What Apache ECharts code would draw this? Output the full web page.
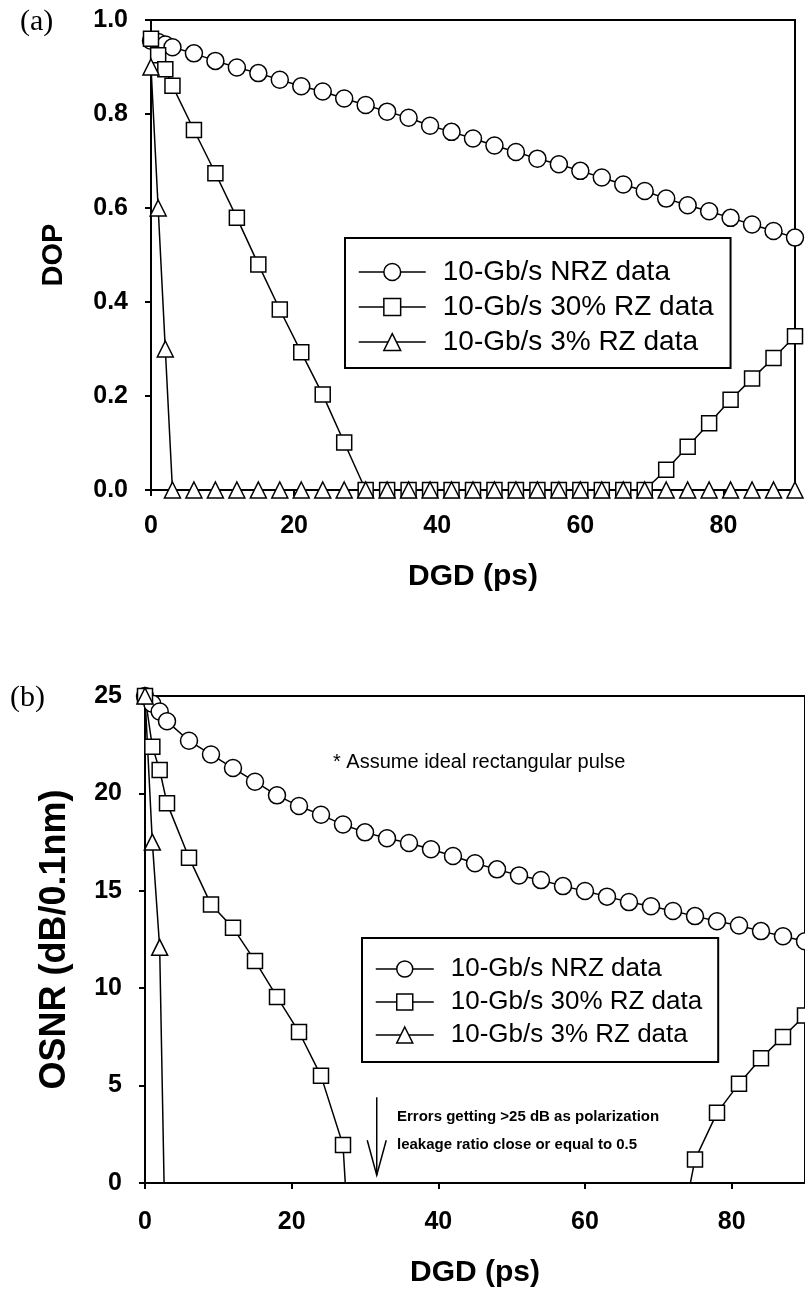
<!DOCTYPE html>
<html>
<head>
<meta charset="utf-8">
<style>
  html, body { margin: 0; padding: 0; background: #fff; }
  #chart { width: 805px; height: 1300px; }
</style>
<script src="https://cdn.jsdelivr.net/npm/echarts@6/dist/echarts.min.js"></script>
</head>
<body>
<div id="chart"></div>
<script>
// DGD sample points (ps), shared by every curve
const dgd = [0, 1, 2, 3, 6, 9, 12, 15, 18, 21, 24, 27, 30, 33, 36, 39, 42, 45, 48, 51, 54, 57, 60, 63, 66, 69, 72, 75, 78, 81, 84, 87, 90];

const names = ["10-Gb/s NRZ data", "10-Gb/s 30% RZ data", "10-Gb/s 3% RZ data"];

// (a) DOP
const dopNrz = [0.956, 0.953, 0.948, 0.942, 0.929, 0.913, 0.899, 0.887, 0.873, 0.859, 0.848, 0.833, 0.819, 0.805, 0.792, 0.775, 0.762, 0.748, 0.733, 0.719, 0.705, 0.693, 0.679, 0.665, 0.650, 0.636, 0.620, 0.606, 0.593, 0.579, 0.565, 0.551, 0.537];
const dopRz30 = [0.96, 0.925, 0.895, 0.86, 0.766, 0.674, 0.579, 0.48, 0.384, 0.293, 0.203, 0.101, 0, 0, 0, 0, 0, 0, 0, 0, 0, 0, 0, 0, 0, 0, 0.043, 0.092, 0.142, 0.192, 0.237, 0.281, 0.327];
const dopRz3 = [0.9, 0.6, 0.3, 0, 0, 0, 0, 0, 0, 0, 0, 0, 0, 0, 0, 0, 0, 0, 0, 0, 0, 0, 0, 0, 0, 0, 0, 0, 0, 0, 0, 0, 0];

// (b) OSNR (dB/0.1nm); values below 0 run off the axis, null = not plotted
const osnrNrz = [25, 24.6, 24.2, 23.7, 22.7, 22.0, 21.3, 20.6, 19.9, 19.35, 18.9, 18.4, 18.0, 17.7, 17.45, 17.13, 16.79, 16.41, 16.10, 15.79, 15.55, 15.24, 14.99, 14.70, 14.42, 14.21, 13.96, 13.70, 13.44, 13.22, 12.93, 12.67, 12.41];
const osnrRz30 = [25, 22.4, 21.2, 19.5, 16.7, 14.3, 13.1, 11.4, 9.55, 7.75, 5.5, 1.95, -17, null, null, null, null, null, null, null, null, null, null, null, null, null, -4.5, 1.2, 3.6, 5.1, 6.4, 7.5, 8.6];
const osnrRz3 = [25, 17.5, 12.1, -8, null, null, null, null, null, null, null, null, null, null, null, null, null, null, null, null, null, null, null, null, null, null, null, null, null, null, null, null, null];

const dgdTicks = [0, 20, 40, 60, 80];
const dopTicks = [0, 0.2, 0.4, 0.6, 0.8, 1.0];
const osnrTicks = [0, 5, 10, 15, 20, 25];

// annotation arrow in panel (b), data coords
const arrowDgd = 31.6;
const arrowFrom = 4.4;
const arrowTo = 0.4;

const font = "'Liberation Sans', Arial, Helvetica, sans-serif";
const black = "#000";

const chart = echarts.init(document.getElementById("chart"));

function curve(name, idx, symbol, size, vals) {
  return {
    name: name,
    type: "line",
    xAxisIndex: idx,
    yAxisIndex: idx,
    data: dgd.map((x, i) => [x, vals[i]]),
    symbol: symbol,
    symbolSize: size,
    showAllSymbol: true,
    clip: true,
    lineStyle: { color: black, width: 1.5 },
    itemStyle: { color: "#fff", borderColor: black, borderWidth: 1.5 },
    emphasis: { disabled: true }
  };
}

function xAxisOf(idx, gap, margin) {
  return {
    gridIndex: idx,
    type: "value",
    min: 0,
    max: 90,
    name: "DGD (ps)",
    nameLocation: "middle",
    nameGap: gap,
    nameTextStyle: { fontFamily: font, fontSize: 30, fontWeight: "bold", color: black },
    axisLine: { lineStyle: { color: black, width: 2 } },
    axisTick: { length: 6, customValues: dgdTicks, lineStyle: { color: black, width: 2 } },
    axisLabel: { customValues: dgdTicks, margin: margin, fontFamily: font, fontSize: 25, fontWeight: "bold", color: black },
    splitLine: { show: false }
  };
}

function yAxisOf(idx, name, max, ticks, gap, size, fmt) {
  return {
    gridIndex: idx,
    type: "value",
    min: 0,
    max: max,
    name: name,
    nameLocation: "middle",
    nameGap: gap,
    nameTextStyle: { fontFamily: font, fontSize: size, fontWeight: "bold", color: black },
    axisLine: { lineStyle: { color: black, width: 2 } },
    axisTick: { length: 6, customValues: ticks, lineStyle: { color: black, width: 2 } },
    axisLabel: { customValues: ticks, margin: 23, formatter: fmt, fontFamily: font, fontSize: 25, fontWeight: "bold", color: black },
    splitLine: { show: false }
  };
}

function legendOf(left, top, w, h, gap, fs, pad) {
  return {
    orient: "vertical",
    left: left,
    top: top,
    data: names.slice(),
    itemWidth: w,
    itemHeight: h,
    itemGap: gap,
    padding: pad,
    borderColor: black,
    borderWidth: 2,
    borderRadius: 0,
    backgroundColor: "#fff",
    selectedMode: false,
    itemStyle: { color: "#fff", borderColor: black, borderWidth: 1.5 },
    lineStyle: { color: black, width: 1.5 },
    textStyle: { fontFamily: font, fontSize: fs, color: black, padding: [0, 0, 0, 12] }
  };
}

chart.setOption({
  animation: false,
  backgroundColor: "#fff",
  grid: [
    { left: 151, top: 20, width: 644, height: 470, show: true, borderColor: black, borderWidth: 2, backgroundColor: "transparent" },
    { left: 145, top: 696, width: 667, height: 487, show: true, borderColor: black, borderWidth: 2, backgroundColor: "transparent" }
  ],
  xAxis: [xAxisOf(0, 72, 24), xAxisOf(1, 75, 27)],
  yAxis: [
    yAxisOf(0, "DOP", 1, dopTicks, 83, 29, v => v.toFixed(1)),
    yAxisOf(1, "OSNR (dB/0.1nm)", 25, osnrTicks, 72, 36, v => String(v))
  ],
  legend: [
    legendOf(345, 238, 67, 21, 7, 28, [20, 17, 12, 13]),
    legendOf(362, 938, 58, 20, 7, 26, [18, 16, 14, 13])
  ],
  series: [
    curve(names[0], 0, "circle", 17, dopNrz),
    curve(names[1], 0, "rect", 15, dopRz30),
    curve(names[2], 0, "triangle", 16, dopRz3),
    curve(names[0], 1, "circle", 17, osnrNrz),
    curve(names[1], 1, "rect", 15, osnrRz30),
    curve(names[2], 1, "triangle", 16, osnrRz3)
  ]
});

// annotations
const arrowStart = chart.convertToPixel({ gridIndex: 1 }, [arrowDgd, arrowFrom]);
const arrowTip = chart.convertToPixel({ gridIndex: 1 }, [arrowDgd, arrowTo]);

chart.setOption({
  graphic: [
    { type: "text", x: 20, y: 22, style: { text: "(a)", font: "30px 'Liberation Serif', 'Times New Roman', serif", fill: black, verticalAlign: "middle" } },
    { type: "text", x: 10, y: 698, style: { text: "(b)", font: "30px 'Liberation Serif', 'Times New Roman', serif", fill: black, verticalAlign: "middle" } },
    { type: "text", x: 333, y: 762, style: { text: "* Assume ideal rectangular pulse", font: "20px " + font, fill: black, verticalAlign: "middle" } },
    { type: "text", x: 397, y: 1117, style: { text: "Errors getting >25 dB as polarization", font: "bold 15px " + font, fill: black, verticalAlign: "middle" } },
    { type: "text", x: 397, y: 1145, style: { text: "leakage ratio close or equal to 0.5", font: "bold 15px " + font, fill: black, verticalAlign: "middle" } },
    { type: "line", shape: { x1: arrowStart[0], y1: arrowStart[1], x2: arrowTip[0], y2: arrowTip[1] }, style: { stroke: black, lineWidth: 1.5 } },
    { type: "polyline", shape: { points: [[arrowTip[0] - 9.5, arrowTip[1] - 35], [arrowTip[0], arrowTip[1]], [arrowTip[0] + 9.5, arrowTip[1] - 35]] }, style: { stroke: black, lineWidth: 1.5, fill: null } }
  ]
});
</script>
</body>
</html>
